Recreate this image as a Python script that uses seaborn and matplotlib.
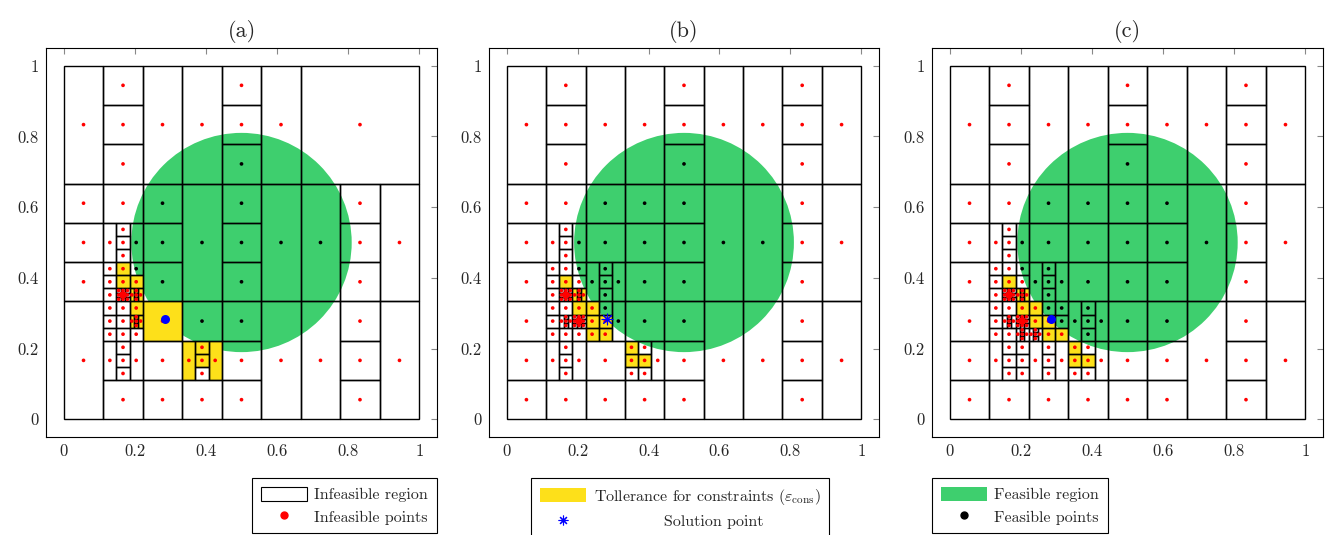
import matplotlib
matplotlib.use('Agg')
import matplotlib.pyplot as plt
from matplotlib.patches import Rectangle, Circle, Patch
from matplotlib.lines import Line2D
import numpy as np
import pandas as pd
import seaborn as sns

# grid unit of the partition: 1/27 of the box
U = 1 / 27

CIRCLE_CENTER = (0.5, 0.5)
CIRCLE_RADIUS = 0.31
SOLUTION = (0.284, 0.283)

TICKS = [0, 0.2, 0.4, 0.6, 0.8, 1]
TICK_LABELS = ['0', '0.2', '0.4', '0.6', '0.8', '1']
TITLES = ['(a)', '(b)', '(c)']

GREEN = '#3ecf6e'
YELLOW = '#fde01a'

# rectangles of the partition (x0, y0, w, h) in 1/27 units
RECTS_A = [
    (0, 18, 3, 9), (3, 24, 3, 3), (3, 21, 3, 3), (3, 18, 3, 3), (6, 18, 3, 9), (9, 18, 3, 9),
    (12, 24, 3, 3), (12, 21, 3, 3), (12, 18, 3, 3), (15, 18, 3, 9), (18, 18, 9, 9),
    (0, 15, 3, 3), (0, 12, 3, 3), (0, 9, 3, 3), (3, 15, 3, 3),
    (3, 12, 1, 3), (4, 14, 1, 1), (4, 13, 1, 1), (4, 12, 1, 1), (5, 12, 1, 3),
    (3, 11, 1, 1), (3, 10, 1, 1), (3, 9, 1, 1), (4, 11, 1, 1), (4, 10, 1, 1), (5, 11, 1, 1), (5, 10, 1, 1),
    (6, 15, 3, 3), (6, 12, 3, 3), (6, 9, 3, 3), (9, 9, 3, 9),
    (12, 15, 3, 3), (12, 12, 3, 3), (12, 9, 3, 3), (15, 9, 3, 9), (18, 9, 3, 9),
    (21, 15, 3, 3), (21, 12, 3, 3), (21, 9, 3, 3), (24, 9, 3, 9),
    (0, 0, 3, 9),
    (3, 8, 1, 1), (3, 7, 1, 1), (3, 6, 1, 1), (4, 8, 1, 1), (4, 7, 1, 1), (4, 6, 1, 1), (5, 8, 1, 1), (5, 6, 1, 1),
    (3, 3, 1, 3), (4, 5, 1, 1), (4, 4, 1, 1), (4, 3, 1, 1), (5, 3, 1, 3), (3, 0, 3, 3),
    (6, 6, 3, 3), (6, 3, 3, 3), (6, 0, 3, 3),
    (9, 6, 3, 3), (9, 3, 1, 3), (10, 5, 1, 1), (10, 4, 1, 1), (10, 3, 1, 1), (11, 3, 1, 3), (9, 0, 3, 3),
    (12, 6, 3, 3), (12, 3, 3, 3), (12, 0, 3, 3), (15, 0, 3, 9), (18, 0, 3, 9),
    (21, 6, 3, 3), (21, 3, 3, 3), (21, 0, 3, 3), (24, 0, 3, 9),
]
DENSE_A = [(4, 9)]
PLUS_A = [(5, 9), (5, 7)]
YELLOW_A = [(4, 11, 1, 1), (4, 10, 1, 1), (5, 10, 1, 1), (5, 9, 1, 1), (5, 8, 1, 1), (5, 7, 1, 1),
            (6, 6, 3, 3), (9, 3, 1, 3), (10, 5, 1, 1), (10, 4, 1, 1), (11, 3, 1, 3)]

RECTS_B = [
    (0, 18, 3, 9), (3, 24, 3, 3), (3, 21, 3, 3), (3, 18, 3, 3), (6, 18, 3, 9), (9, 18, 3, 9),
    (12, 24, 3, 3), (12, 21, 3, 3), (12, 18, 3, 3), (15, 18, 3, 9), (18, 18, 3, 9),
    (21, 24, 3, 3), (21, 21, 3, 3), (21, 18, 3, 3), (24, 18, 3, 9),
    (0, 15, 3, 3), (0, 12, 3, 3), (0, 9, 3, 3), (3, 15, 3, 3),
    (3, 12, 1, 3), (4, 14, 1, 1), (4, 13, 1, 1), (4, 12, 1, 1), (5, 12, 1, 3),
    (3, 11, 1, 1), (3, 10, 1, 1), (3, 9, 1, 1), (4, 11, 1, 1), (4, 10, 1, 1), (5, 11, 1, 1), (5, 10, 1, 1),
    (6, 15, 3, 3), (6, 12, 3, 3), (6, 9, 1, 3), (7, 11, 1, 1), (7, 10, 1, 1), (7, 9, 1, 1), (8, 9, 1, 3),
    (9, 15, 3, 3), (9, 12, 3, 3), (9, 9, 3, 3),
    (12, 15, 3, 3), (12, 12, 3, 3), (12, 9, 3, 3), (15, 9, 3, 9), (18, 9, 3, 9),
    (21, 15, 3, 3), (21, 12, 3, 3), (21, 9, 3, 3), (24, 9, 3, 9),
    (0, 6, 3, 3), (0, 3, 3, 3), (0, 0, 3, 3),
    (3, 8, 1, 1), (3, 7, 1, 1), (3, 6, 1, 1), (4, 8, 1, 1), (4, 6, 1, 1), (5, 8, 1, 1), (5, 6, 1, 1),
    (3, 3, 1, 3), (4, 5, 1, 1), (4, 4, 1, 1), (4, 3, 1, 1), (5, 3, 1, 3), (3, 0, 3, 3),
    (6, 8, 1, 1), (6, 7, 1, 1), (6, 6, 1, 1), (7, 8, 1, 1), (7, 7, 1, 1), (7, 6, 1, 1), (8, 6, 1, 3),
    (6, 3, 3, 3), (6, 0, 3, 3),
    (9, 6, 3, 3), (9, 5, 1, 1), (9, 4, 1, 1), (9, 3, 1, 1), (10, 5, 1, 1), (10, 4, 1, 1), (10, 3, 1, 1),
    (11, 3, 1, 3), (9, 0, 3, 3),
    (12, 6, 3, 3), (12, 3, 3, 3), (12, 0, 3, 3), (15, 0, 3, 9), (18, 0, 3, 9),
    (21, 6, 3, 3), (21, 3, 3, 3), (21, 0, 3, 3), (24, 0, 3, 9),
]
DENSE_B = [(4, 9), (5, 7)]
PLUS_B = [(5, 9), (4, 7)]
YELLOW_B = [(4, 10, 1, 1), (5, 9, 1, 1), (5, 8, 1, 1), (6, 8, 1, 1), (6, 7, 1, 1), (6, 6, 1, 1),
            (7, 7, 1, 1), (7, 6, 1, 1), (9, 5, 1, 1), (9, 4, 1, 1), (10, 4, 1, 1)]

RECTS_C = [
    (0, 18, 3, 9), (3, 24, 3, 3), (3, 21, 3, 3), (3, 18, 3, 3), (6, 18, 3, 9), (9, 18, 3, 9),
    (12, 24, 3, 3), (12, 21, 3, 3), (12, 18, 3, 3), (15, 18, 3, 9), (18, 18, 3, 9),
    (21, 24, 3, 3), (21, 21, 3, 3), (21, 18, 3, 3), (24, 18, 3, 9),
    (0, 15, 3, 3), (0, 12, 3, 3), (0, 9, 3, 3), (3, 15, 3, 3),
    (3, 12, 1, 3), (4, 14, 1, 1), (4, 13, 1, 1), (4, 12, 1, 1), (5, 12, 1, 3),
    (3, 11, 1, 1), (3, 10, 1, 1), (3, 9, 1, 1), (4, 11, 1, 1), (4, 10, 1, 1), (5, 11, 1, 1), (5, 10, 1, 1),
    (6, 15, 3, 3), (6, 12, 3, 3), (6, 9, 1, 3), (7, 11, 1, 1), (7, 10, 1, 1), (7, 9, 1, 1), (8, 9, 1, 3),
    (9, 15, 3, 3), (9, 12, 3, 3), (9, 9, 3, 3),
    (12, 15, 3, 3), (12, 12, 3, 3), (12, 9, 3, 3),
    (15, 15, 3, 3), (15, 12, 3, 3), (15, 9, 3, 3), (18, 9, 3, 9),
    (21, 15, 3, 3), (21, 12, 3, 3), (21, 9, 3, 3), (24, 9, 3, 9),
    (0, 6, 3, 3), (0, 3, 3, 3), (0, 0, 3, 3),
    (3, 8, 1, 1), (3, 7, 1, 1), (3, 6, 1, 1), (4, 8, 1, 1), (4, 6, 1, 1), (5, 8, 1, 1),
    (3, 3, 1, 3), (4, 5, 1, 1), (4, 4, 1, 1), (4, 3, 1, 1), (5, 5, 1, 1), (5, 4, 1, 1), (5, 3, 1, 1),
    (3, 0, 3, 3),
    (6, 8, 1, 1), (6, 7, 1, 1), (7, 8, 1, 1), (7, 7, 1, 1), (7, 6, 1, 1), (8, 8, 1, 1), (8, 7, 1, 1), (8, 6, 1, 1),
    (6, 3, 1, 3), (7, 5, 1, 1), (7, 4, 1, 1), (7, 3, 1, 1), (8, 3, 1, 3), (6, 0, 3, 3),
    (9, 6, 1, 3), (10, 8, 1, 1), (10, 7, 1, 1), (10, 6, 1, 1), (11, 6, 1, 3),
    (9, 5, 1, 1), (9, 4, 1, 1), (9, 3, 1, 1), (10, 5, 1, 1), (10, 4, 1, 1), (10, 3, 1, 1),
    (11, 3, 1, 3), (9, 0, 3, 3),
    (12, 6, 3, 3), (12, 3, 3, 3), (12, 0, 3, 3),
    (15, 6, 3, 3), (15, 3, 3, 3), (15, 0, 3, 3), (18, 0, 3, 9),
    (21, 6, 3, 3), (21, 3, 3, 3), (21, 0, 3, 3), (24, 0, 3, 9),
]
DENSE_C = [(4, 9), (5, 7)]
PLUS_C = [(5, 9), (4, 7), (5, 6), (6, 6)]
YELLOW_C = [(4, 10, 1, 1), (5, 9, 1, 1), (5, 8, 1, 1), (6, 8, 1, 1), (6, 7, 1, 1), (7, 7, 1, 1),
            (7, 6, 1, 1), (8, 6, 1, 1), (9, 5, 1, 1), (9, 4, 1, 1), (10, 4, 1, 1)]

PANELS = [
    (RECTS_A, DENSE_A, PLUS_A, YELLOW_A, 'dot'),
    (RECTS_B, DENSE_B, PLUS_B, YELLOW_B, 'star'),
    (RECTS_C, DENSE_C, PLUS_C, YELLOW_C, 'dot'),
]


def split_cell(x0, y0, kind):
    # a 1x1 cell trisected again (finer sampling near the boundary)
    out = []
    if kind == 'plus':
        t = 1 / 3
        out += [(x0, y0, t, 1), (x0 + 2 * t, y0, t, 1)]
        out += [(x0 + t, y0 + k * t, t, t) for k in range(3)]
    else:
        s, cx, cy = 1.0, x0, y0
        for level in range(3):
            s = s / 3
            for i in range(3):
                for j in range(3):
                    out.append((cx + i * s, cy + j * s, s, s))
            cx, cy = cx + s, cy + s
    return out


sns.set_theme(style='white')
plt.rcParams['font.family'] = ['cmr10', 'DejaVu Serif']
plt.rcParams['mathtext.fontset'] = 'cm'
plt.rcParams['axes.formatter.use_mathtext'] = True

W, H = 1325, 535
fig = plt.figure(figsize=(W / 100, H / 100), dpi=100)
lefts = [46, 489, 932]
widths = [391, 390, 391]

legend_items = [
    [(Patch(facecolor='white', edgecolor='black', linewidth=0.8), 'Infeasible region'),
     (Line2D([], [], marker='o', color='red', ls='none', ms=5), 'Infeasible points')],
    [(Patch(facecolor=YELLOW, edgecolor='none'), r'Tollerance for constraints ($\varepsilon_{\rm cons}$)'),
     (Line2D([], [], marker=(8, 2, 0), color='blue', ls='none', ms=7, mew=0.8),
      '             Solution point')],
    [(Patch(facecolor=GREEN, edgecolor='none'), 'Feasible region'),
     (Line2D([], [], marker='o', color='black', ls='none', ms=5), 'Feasible points')],
]
legend_locs = [('upper right', 1.0), ('upper center', 0.49), ('upper left', 0.0)]

for k, (rects, dense, plus, yellow, sol) in enumerate(PANELS):
    ax = fig.add_axes([lefts[k] / W, 98 / H, widths[k] / W, 389 / H])

    ax.add_patch(Circle(CIRCLE_CENTER, CIRCLE_RADIUS, facecolor=GREEN, edgecolor='none', zorder=1))
    for (x0, y0, w, h) in yellow:
        ax.add_patch(Rectangle((x0 * U, y0 * U), w * U, h * U, facecolor=YELLOW,
                               edgecolor='none', zorder=2))

    cells = list(rects)
    for (x0, y0) in dense:
        cells += split_cell(x0, y0, 'dense')
    for (x0, y0) in plus:
        cells += split_cell(x0, y0, 'plus')

    for (x0, y0, w, h) in cells:
        ax.add_patch(Rectangle((x0 * U, y0 * U), w * U, h * U, fill=False,
                               edgecolor='black', linewidth=1.0, zorder=3))

    df = pd.DataFrame(cells, columns=['x0', 'y0', 'w', 'h'])
    df['x'] = (df.x0 + df.w / 2) * U
    df['y'] = (df.y0 + df.h / 2) * U
    dist = np.hypot(df.x - CIRCLE_CENTER[0], df.y - CIRCLE_CENTER[1])
    df['kind'] = np.where(dist <= CIRCLE_RADIUS, 'Feasible', 'Infeasible')
    sns.scatterplot(data=df, x='x', y='y', hue='kind',
                    palette={'Feasible': 'black', 'Infeasible': 'red'},
                    s=7, linewidth=0, legend=False, ax=ax, zorder=4)

    if sol == 'dot':
        ax.scatter([SOLUTION[0]], [SOLUTION[1]], s=42, color='blue', linewidths=0, zorder=5)
    else:
        ax.scatter([SOLUTION[0]], [SOLUTION[1]], s=60, marker=(8, 2, 0), color='blue',
                   linewidths=0.8, zorder=5)

    ax.set_xlim(-0.05, 1.05)
    ax.set_ylim(-0.05, 1.05)
    ax.set_xticks(TICKS)
    ax.set_xticklabels(TICK_LABELS)
    ax.set_yticks(TICKS)
    ax.set_yticklabels(TICK_LABELS)
    ax.set_xlabel('')
    ax.set_ylabel('')
    ax.tick_params(direction='in', top=True, right=True, length=4, width=0.8,
                   color='#888888', labelsize=12, pad=5)
    for sp in ax.spines.values():
        sp.set_color('black')
        sp.set_linewidth(0.8)
    ax.set_title(TITLES[k], fontsize=16, pad=8)

    handles = [h for h, _ in legend_items[k]]
    labels = [l for _, l in legend_items[k]]
    loc, ax_x = legend_locs[k]
    leg = ax.legend(handles, labels, loc=loc, bbox_to_anchor=(ax_x, -0.105),
                    fontsize=11.5, frameon=True, fancybox=False, framealpha=1,
                    edgecolor='black', handlelength=2.9, handleheight=1.0,
                    handletextpad=0.45, labelspacing=0.42, borderpad=0.55, borderaxespad=0)
    leg.get_frame().set_linewidth(0.8)

fig.savefig('out.png', dpi=100)
